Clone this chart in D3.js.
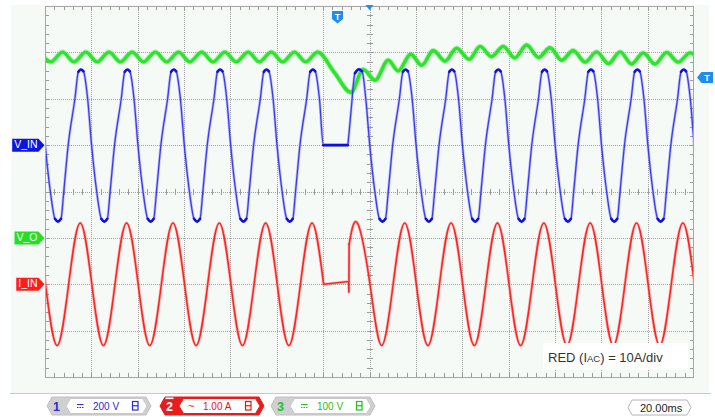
<!DOCTYPE html>
<html>
<head>
<meta charset="utf-8">
<script src="https://cdn.jsdelivr.net/npm/d3@7"></script>
<style>
  html, body { margin: 0; padding: 0; background: #ffffff; }
  svg { display: block; }
</style>
</head>
<body>
<svg id="scope" width="715" height="417"></svg>
<script>
// ---- acquisition settings ----
const timeWindow = [-140, 140];                 // ms, trigger at 0
const timebaseLabel = "20.00ms";
const channelNames = ["V_IN", "I_IN", "V_O"];
const channelNumbers = ["1", "2", "3"];
const channelScaleLabels = ["200 V", "1.00 A", "100 V"];
const channelCoupling = ["dc", "ac", "dc"];
const channelUnitsPerDiv = [200, 10, 100];     // V, A, V per division
const channelZeroDiv = [5, 2, 3];              // ground level, divisions above bottom edge
const noteParts = ["RED (I", "AC", ") = 10A/div"];
const triggerTime = -13.8;                     // ms
const triggerLevel = 346;                      // V on V_O

// ---- V_IN (V): [ms, V] ----
const vinTrace = [
  [-143.4, 318], [-141.6, 200], [-139.9, 0], [-137.7, -200], [-135.7, -318], [-134.4, -330], [-133.1, -318], [-131.9, -200],
  [-130, 0], [-127.1, 200], [-125.6, 316], [-124.5, 326], [-123.4, 318], [-121.6, 200], [-119.9, 0], [-117.7, -200], [-115.7, -318], [-114.4, -330], [-113.1, -318], [-111.9, -200],
  [-110, 0], [-107.1, 200], [-105.6, 316], [-104.5, 326], [-103.4, 318], [-101.6, 200], [-99.9, 0], [-97.7, -200], [-95.7, -318], [-94.4, -330], [-93.1, -318], [-91.9, -200],
  [-90, 0], [-87.1, 200], [-85.6, 316], [-84.5, 326], [-83.4, 318], [-81.6, 200], [-79.9, 0], [-77.7, -200], [-75.7, -318], [-74.4, -330], [-73.1, -318], [-71.9, -200],
  [-70, 0], [-67.1, 200], [-65.6, 316], [-64.5, 326], [-63.4, 318], [-61.6, 200], [-59.9, 0], [-57.7, -200], [-55.7, -318], [-54.4, -330], [-53.1, -318], [-51.9, -200],
  [-50, 0], [-47.1, 200], [-45.6, 316], [-44.5, 326], [-43.4, 318], [-41.6, 200], [-39.9, 0], [-37.7, -200], [-35.7, -318], [-34.4, -330], [-33.1, -318], [-31.9, -200],
  [-30, 0], [-27.1, 200], [-25.6, 316], [-24.5, 326], [-23.4, 318], [-21.6, 200], [-19.9, 0],
  [-14.5, 0], [-9.4, 0], [-9.1, 25], [-7.8, 165], [-6.3, 310], [-4.6, 327], [-3.2, 318], [-1.6, 200], [0.1, 0], [2.3, -200], [4.3, -318], [5.6, -330], [6.9, -318], [8.1, -200],
  [10, 0], [12.9, 200], [14.4, 316], [15.5, 326], [16.6, 318], [18.4, 200], [20.1, 0], [22.3, -200], [24.3, -318], [25.6, -330], [26.9, -318], [28.1, -200],
  [30, 0], [32.9, 200], [34.4, 316], [35.5, 326], [36.6, 318], [38.4, 200], [40.1, 0], [42.3, -200], [44.3, -318], [45.6, -330], [46.9, -318], [48.1, -200],
  [50, 0], [52.9, 200], [54.4, 316], [55.5, 326], [56.6, 318], [58.4, 200], [60.1, 0], [62.3, -200], [64.3, -318], [65.6, -330], [66.9, -318], [68.1, -200],
  [70, 0], [72.9, 200], [74.4, 316], [75.5, 326], [76.6, 318], [78.4, 200], [80.1, 0], [82.3, -200], [84.3, -318], [85.6, -330], [86.9, -318], [88.1, -200],
  [90, 0], [92.9, 200], [94.4, 316], [95.5, 326], [96.6, 318], [98.4, 200], [100.1, 0], [102.3, -200], [104.3, -318], [105.6, -330], [106.9, -318], [108.1, -200],
  [110, 0], [112.9, 200], [114.4, 316], [115.5, 326], [116.6, 318], [118.4, 200], [120.1, 0], [122.3, -200], [124.3, -318], [125.6, -330], [126.9, -318], [128.1, -200],
  [130, 0], [132.9, 200], [134.4, 316], [135.5, 326], [136.6, 318], [138.4, 200], [140.1, 0], [142.3, -200]
];

// ---- I_IN (A): before the dropout, the dropout itself, and the recovery ----
const iinBefore = [
  [-149.8, 0], [-144.8, 13.2], [-139.8, 0], [-134.8, -13.2], [-129.8, 0], [-124.8, 13.2], [-119.8, 0],
  [-114.8, -13.2], [-109.8, 0], [-104.8, 13.2], [-99.8, 0], [-94.8, -13.2], [-89.8, 0], [-84.8, 13.2],
  [-79.8, 0], [-74.8, -13.2], [-69.8, 0], [-64.8, 13.2], [-59.8, 0], [-54.8, -13.2], [-49.8, 0],
  [-44.8, 13.2], [-39.8, 0], [-34.8, -13.2], [-29.8, 0], [-24.8, 13.2], [-19.8, 0]
];
const iinDropout = [[-19.8, 0], [-9.0, 0.6], [-8.9, -1.7], [-8.8, 8.6]];
const iinAfter = [
  [-8.8, 8.6], [-5.2, 13.2], [0.2, 0], [5.2, -13.2], [10.2, 0], [15.2, 13.2], [20.2, 0], [25.2, -13.2],
  [30.2, 0], [35.2, 13.2], [40.2, 0], [45.2, -13.2], [50.2, 0], [55.2, 13.2], [60.2, 0], [65.2, -13.2],
  [70.2, 0], [75.2, 13.2], [80.2, 0], [85.2, -13.2], [90.2, 0], [95.2, 13.2], [100.2, 0], [105.2, -13.2],
  [110.2, 0], [115.2, 13.2], [120.2, 0], [125.2, -13.2], [130.2, 0], [135.2, 13.2], [140.2, 0], [145.2, -13.2], [150.2, 0]
];

// ---- V_O (V): ripple peaks and valleys ----
const voTrace = [
  [-142.4, 400.6], [-137.5, 379.6], [-132.4, 400.6], [-127.5, 379.6], [-122.4, 400.6], [-117.5, 379.6],
  [-112.4, 400.6], [-107.5, 379.6], [-102.4, 400.6], [-97.5, 379.6], [-92.4, 400.6], [-87.5, 379.6],
  [-82.4, 400.6], [-77.5, 379.6], [-72.4, 400.6], [-67.5, 379.6], [-62.4, 400.6], [-57.5, 379.6],
  [-52.4, 400.6], [-47.5, 379.6], [-42.4, 400.6], [-37.5, 379.6], [-32.4, 400.6], [-27.5, 379.6],
  [-22.4, 400.6], [-15.2, 357], [-8.0, 314],
  [-2.7, 363], [2.4, 340], [8.1, 383], [12.4, 360], [17.8, 396], [22.5, 372], [27.5, 404], [32.6, 381],
  [37.6, 409], [43.0, 385], [47.7, 413], [52.6, 391], [57.7, 413], [62.7, 388], [67.8, 416], [72.9, 389],
  [77.9, 410], [82.9, 383], [87.9, 404], [93.0, 379], [98.0, 401], [103.1, 376], [108.1, 401], [113.1, 375],
  [118.1, 399], [123.2, 375], [128.2, 400], [133.2, 379], [138.3, 399], [143.3, 378]
];

// ---- layout ----
const svg = d3.select("#scope");
const frame = { left: 45, right: 694, top: 6, bottom: 377 };
const divX = 14, divY = 8;
const plotW = frame.right - frame.left, plotH = frame.bottom - frame.top;
const markColors = ["#0c16e0", "#ff1c1c", "#22e022"];
const textColors = ["#2a2ad8", "#e81414", "#1fc01f"];
const uiFont = "'Liberation Sans', Arial, sans-serif";

svg.append("rect").attr("width", 715).attr("height", 417).attr("fill", "#ffffff");
svg.append("rect").attr("x", 11).attr("y", 5).attr("width", 698).attr("height", 388).attr("fill", "#f6faf7");
svg.append("line").attr("x1", 10).attr("x2", 711).attr("y1", 393.5).attr("y2", 393.5).attr("stroke", "#c8c8c8");

const x = d3.scaleLinear().domain(timeWindow).range([frame.left, frame.right]);
const gx = d3.scaleLinear().domain([0, divX]).range([frame.left, frame.right]);
const gy = d3.scaleLinear().domain([0, divY]).range([frame.bottom, frame.top]);
const yCh = channelUnitsPerDiv.map((u, i) =>
  d3.scaleLinear().domain([-channelZeroDiv[i] * u, (divY - channelZeroDiv[i]) * u]).range([frame.bottom, frame.top]));

// ---- graticule ----
const grat = svg.append("g").attr("shape-rendering", "crispEdges");
grat.append("g").attr("transform", `translate(0,${frame.bottom})`)
  .call(d3.axisBottom(gx).tickValues(d3.range(1, divX)).tickSize(-plotH).tickFormat(""));
grat.append("g").attr("transform", `translate(${frame.left},0)`)
  .call(d3.axisLeft(gy).tickValues(d3.range(1, divY)).tickSize(-plotW).tickFormat(""));
grat.selectAll(".domain").remove();
grat.selectAll(".tick line").attr("stroke", "#a2a2a2").attr("stroke-dasharray", "1,1");

const minorX = d3.range(1, divX * 5).map(i => i / 5);
const minorY = d3.range(1, divY * 5).map(i => i / 5);
const minors = svg.append("g").attr("shape-rendering", "crispEdges");
const addMinor = (axis, tx, ty) => minors.append("g").attr("transform", `translate(${tx},${ty})`).call(axis);
addMinor(d3.axisTop(gx).tickValues(minorX).tickSize(-4).tickFormat(""), 0, frame.top);
addMinor(d3.axisBottom(gx).tickValues(minorX).tickSize(-4).tickFormat(""), 0, frame.bottom);
addMinor(d3.axisLeft(gy).tickValues(minorY).tickSize(-4).tickFormat(""), frame.left, 0);
addMinor(d3.axisRight(gy).tickValues(minorY).tickSize(-4).tickFormat(""), frame.right, 0);
addMinor(d3.axisTop(gx).tickValues(minorX).tickSize(3).tickFormat(""), 0, gy(divY / 2));
addMinor(d3.axisBottom(gx).tickValues(minorX).tickSize(3).tickFormat(""), 0, gy(divY / 2));
addMinor(d3.axisLeft(gy).tickValues(minorY).tickSize(3).tickFormat(""), gx(divX / 2), 0);
addMinor(d3.axisRight(gy).tickValues(minorY).tickSize(3).tickFormat(""), gx(divX / 2), 0);
minors.selectAll(".domain").remove();
minors.selectAll(".tick line").attr("stroke", "#9c9c9c");

svg.append("rect").attr("x", frame.left + 0.5).attr("y", frame.top + 0.5)
  .attr("width", plotW - 1).attr("height", plotH).attr("fill", "none").attr("stroke", "#a6a6a6");

// ---- traces ----
svg.append("clipPath").attr("id", "plotClip").append("rect")
  .attr("x", frame.left + 1).attr("y", frame.top + 1).attr("width", plotW - 2).attr("height", plotH - 1);
const traces = svg.append("g").attr("clip-path", "url(#plotClip)");

function tracePath(data, yScale, curve) {
  return d3.line().x(d => x(d[0])).y(d => yScale(d[1])).curve(curve)(data);
}
function stroke(d, color, width, opacity) {
  traces.append("path").attr("d", d).attr("fill", "none")
    .attr("stroke", color).attr("stroke-width", width).attr("stroke-opacity", opacity)
    .attr("stroke-linejoin", "round").attr("stroke-linecap", "round");
}

// V_O: bright green band
const voPath = tracePath(voTrace, yCh[2], d3.curveMonotoneX);
stroke(voPath, "#55ee55", 5.4, 0.45);
stroke(voPath, "#2ee22e", 3.4, 1);

// I_IN: red with a soft fringe
[[iinBefore, d3.curveNatural], [iinDropout, d3.curveLinear], [iinAfter, d3.curveNatural]].forEach(([data, curve]) => {
  const p = tracePath(data, yCh[1], curve);
  stroke(p, "#ff6060", 3.2, 0.35);
  stroke(p, "#ff2424", 1.6, 1);
});

// V_IN: lighter on the fast edges, denser where the trace dwells (crests and the dropout)
const vinPath = tracePath(vinTrace, yCh[0], d3.curveMonotoneX);
stroke(vinPath, "#7c7cff", 2.8, 0.45);
stroke(vinPath, "#3a3af2", 1.3, 1);
const dwell = [];
let run = [];
vinTrace.forEach((d, i) => {
  const prev = vinTrace[i - 1], next = vinTrace[i + 1];
  const flat = d[1] === 0 && ((prev && prev[1] === 0) || (next && next[1] === 0));
  if (Math.abs(d[1]) >= 310 || flat) run.push(d);
  else { if (run.length > 1) dwell.push(run); run = []; }
});
if (run.length > 1) dwell.push(run);
dwell.forEach(seg => stroke(tracePath(seg, yCh[0], d3.curveMonotoneX), "#1010d8", 2.6, 1));

// ---- channel ground markers ----
channelNames.forEach((name, i) => {
  const y0 = yCh[i](0), tip = 44.5;
  const g = svg.append("g");
  const t = g.append("text").attr("y", y0 + 3).attr("fill", "#ffffff")
    .attr("font-family", uiFont).attr("font-size", 10.5).text(name);
  const len = t.node().getComputedTextLength();
  const left = tip - 6 - len - 3;
  t.attr("x", left + 2);
  g.insert("path", "text")
    .attr("d", `M${left},${y0 - 6.5}L${tip - 6},${y0 - 6.5}L${tip},${y0}L${tip - 6},${y0 + 6.5}L${left},${y0 + 6.5}Z`)
    .attr("fill", markColors[i]);
});

// ---- trigger markers ----
const trigBlue = "#1e8cf0";
const tx = x(triggerTime);
svg.append("path").attr("d", `M${tx - 5.5},11L${tx + 5.5},11L${tx + 5.5},19L${tx},23.5L${tx - 5.5},19Z`).attr("fill", trigBlue);
svg.append("text").attr("x", tx).attr("y", 19.5).attr("text-anchor", "middle").attr("fill", "#fff")
  .attr("font-family", uiFont).attr("font-weight", "bold").attr("font-size", 9).text("T");
const cx = x(0);
svg.append("path").attr("d", `M${cx - 4},5L${cx + 4},5L${cx},10Z`).attr("fill", trigBlue);
const ty = yCh[2](triggerLevel);
svg.append("path").attr("d", `M697,${ty}L701.5,${ty - 5.5}L713,${ty - 5.5}L713,${ty + 5.5}L701.5,${ty + 5.5}Z`).attr("fill", trigBlue);
svg.append("text").attr("x", 707).attr("y", ty + 3.5).attr("text-anchor", "middle").attr("fill", "#fff")
  .attr("font-family", uiFont).attr("font-weight", "bold").attr("font-size", 9).text("T");

// ---- scale note ----
svg.append("rect").attr("x", 543).attr("y", 343).attr("width", 145).attr("height", 27).attr("fill", "#ffffff");
const note = svg.append("text").attr("x", 548).attr("y", 362).attr("fill", "#333333")
  .attr("font-family", uiFont).attr("font-size", 13);
note.append("tspan").text(noteParts[0]);
note.append("tspan").attr("font-size", 9.5).text(noteParts[1]);
note.append("tspan").text(noteParts[2]);

// ---- status bar ----
function chevron(x0, x1, y0, y1, k) {
  const cy = (y0 + y1) / 2;
  return `M${x0},${cy}L${x0 + k},${y0}L${x1 - k},${y0}L${x1},${cy}L${x1 - k},${y1}L${x0 + k},${y1}Z`;
}
const badgeLeft = [47, 160, 271];
const badgeWidth = 104;
channelNumbers.forEach((num, i) => {
  const x0 = badgeLeft[i], x1 = x0 + badgeWidth;
  const g = svg.append("g");
  const isAc = channelCoupling[i] === "ac";
  g.append("path").attr("d", chevron(x0, x1, 397, 415, 5))
    .attr("fill", isAc ? "#e81c1c" : "#d0d0d0").attr("stroke", isAc ? "#e81c1c" : "#c0c0c0");
  g.append("path").attr("d", chevron(x0 + 19, x1 - 4, 398.5, 413.5, 4.5))
    .attr("fill", "#ffffff").attr("stroke", isAc ? "#e81c1c" : "#c8c8c8");
  g.append("text").attr("x", x0 + 9.5).attr("y", 410.5).attr("text-anchor", "middle")
    .attr("fill", isAc ? "#ffffff" : textColors[i]).attr("font-family", uiFont)
    .attr("font-weight", "bold").attr("font-size", 12.5).text(num);
  if (isAc) {
    g.append("rect").attr("x", x0 + 5.5).attr("y", 397.5).attr("width", 8).attr("height", 1.6).attr("fill", "#ffffff");
    g.append("text").attr("x", x0 + 28).attr("y", 410).attr("fill", textColors[i])
      .attr("font-family", uiFont).attr("font-size", 11).text("~");
  } else {
    g.append("line").attr("x1", x0 + 30).attr("x2", x0 + 36.5).attr("y1", 404.5).attr("y2", 404.5)
      .attr("stroke", textColors[i]).attr("stroke-width", 1);
    g.append("line").attr("x1", x0 + 30).attr("x2", x0 + 36.5).attr("y1", 407.5).attr("y2", 407.5)
      .attr("stroke", textColors[i]).attr("stroke-width", 1).attr("stroke-dasharray", "1.5,1");
  }
  g.append("text").attr("x", x0 + (isAc ? 43 : 46)).attr("y", 410).attr("fill", textColors[i])
    .attr("font-family", uiFont).attr("font-size", 10).text(channelScaleLabels[i]);
  g.append("rect").attr("x", x0 + 85.5).attr("y", 401.5).attr("width", 5.5).attr("height", 8.5)
    .attr("fill", "#ffffff").attr("stroke", textColors[i]).attr("stroke-width", 1.2);
  g.append("line").attr("x1", x0 + 85.5).attr("x2", x0 + 91).attr("y1", 405.75).attr("y2", 405.75)
    .attr("stroke", textColors[i]).attr("stroke-width", 1.2);
});

svg.append("path").attr("d", chevron(628, 691, 400, 415, 4)).attr("fill", "#ffffff").attr("stroke", "#b4b4b4");
svg.append("text").attr("x", 640).attr("y", 411.5).attr("fill", "#222222")
  .attr("font-family", uiFont).attr("font-size", 11).text(timebaseLabel);
</script>
</body>
</html>
